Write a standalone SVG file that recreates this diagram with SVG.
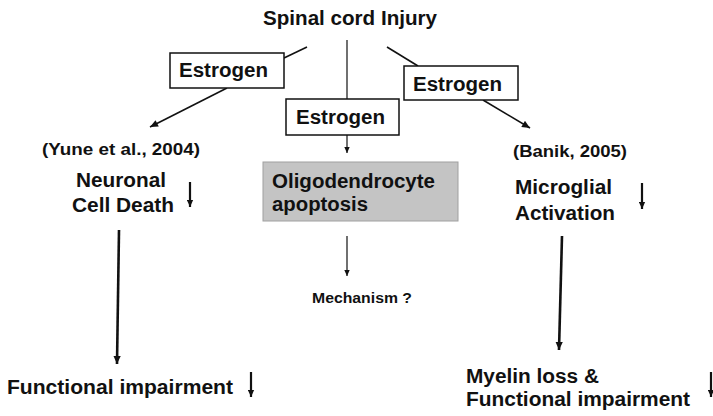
<svg xmlns="http://www.w3.org/2000/svg" width="713" height="416" viewBox="0 0 713 416">
<style>
text{font-family:"Liberation Sans",Arial,sans-serif;font-weight:bold;fill:#111}
.t20{font-size:20px}
.t15{font-size:16px}
.t13{font-size:14px}
.box{fill:#fff;stroke:#111;stroke-width:1.5}
.gray{fill:#c4c4c4;stroke:#a0a0a0;stroke-width:1}
.ln{stroke:#111;fill:none}
.w1{stroke-width:1.2}
.w15{stroke-width:1.6}
.w25{stroke-width:2.6}
.dn{stroke:#111;stroke-width:2.2;fill:none}
</style>
<defs>
<marker id="ah" viewBox="0 0 10 10" refX="10" refY="5" markerWidth="9" markerHeight="8" markerUnits="userSpaceOnUse" orient="auto"><path d="M0,0.5 L10,5 L0,9.5 z" fill="#111"/></marker>
<marker id="ahs" viewBox="0 0 10 10" refX="10" refY="5" markerWidth="7" markerHeight="6" markerUnits="userSpaceOnUse" orient="auto"><path d="M0,0.5 L10,5 L0,9.5 z" fill="#111"/></marker>
<marker id="ahd" viewBox="0 0 10 10" refX="10" refY="5" markerWidth="8" markerHeight="7" markerUnits="userSpaceOnUse" orient="auto"><path d="M0,0.5 L10,5 L0,9.5 z" fill="#111"/></marker>
</defs>
<rect width="713" height="416" fill="#fff"/>

<g id="connectors">
<line class="ln w15" x1="307" y1="47" x2="284" y2="58"/>
<line class="ln w15" x1="227" y1="88" x2="150" y2="127" marker-end="url(#ah)"/>
<line class="ln w1" x1="347" y1="40" x2="347" y2="99"/>
<line class="ln w1" x1="347" y1="135" x2="347" y2="153" marker-end="url(#ahs)"/>
<line class="ln w15" x1="387" y1="47" x2="418" y2="66"/>
<line class="ln w15" x1="483" y1="100" x2="530" y2="128" marker-end="url(#ah)"/>
<line class="ln w25" x1="119" y1="230" x2="117" y2="364" marker-end="url(#ah)"/>
<line class="ln w1" x1="347" y1="236" x2="347" y2="276" marker-end="url(#ahs)"/>
<line class="ln w25" x1="562" y1="236" x2="559" y2="350" marker-end="url(#ah)"/>
</g>

<g id="title"><text class="t20" x="263" y="25" textLength="174" lengthAdjust="spacingAndGlyphs">Spinal cord Injury</text></g>

<g id="estrogen-left">
<rect class="box" x="170" y="53" width="114" height="35"/>
<text class="t20" x="179" y="77" textLength="89" lengthAdjust="spacingAndGlyphs">Estrogen</text>
</g>
<g id="estrogen-mid">
<rect class="box" x="286" y="99" width="113" height="36"/>
<text class="t20" x="296" y="124" textLength="89" lengthAdjust="spacingAndGlyphs">Estrogen</text>
</g>
<g id="estrogen-right">
<rect class="box" x="404" y="66" width="114" height="34"/>
<text class="t20" x="413" y="91" textLength="89" lengthAdjust="spacingAndGlyphs">Estrogen</text>
</g>

<g id="neuronal">
<text class="t15" x="42" y="155" textLength="158" lengthAdjust="spacingAndGlyphs">(Yune et al., 2004)</text>
<text class="t20" x="76" y="187" textLength="90" lengthAdjust="spacingAndGlyphs">Neuronal</text>
<text class="t20" x="72" y="212" textLength="102" lengthAdjust="spacingAndGlyphs">Cell Death</text>
<line class="dn" x1="190" y1="182" x2="190" y2="207" marker-end="url(#ahd)"/>
</g>

<g id="oligo">
<rect class="gray" x="263" y="162" width="195" height="59"/>
<text class="t20" x="272" y="188" textLength="163" lengthAdjust="spacingAndGlyphs">Oligodendrocyte</text>
<text class="t20" x="272" y="211" textLength="96" lengthAdjust="spacingAndGlyphs">apoptosis</text>
</g>

<g id="mechanism"><text class="t13" x="312" y="303" textLength="100" lengthAdjust="spacingAndGlyphs">Mechanism ?</text></g>

<g id="microglial">
<text class="t15" x="513" y="157" textLength="114" lengthAdjust="spacingAndGlyphs">(Banik, 2005)</text>
<text class="t20" x="515" y="194" textLength="97" lengthAdjust="spacingAndGlyphs">Microglial</text>
<text class="t20" x="515" y="220" textLength="100" lengthAdjust="spacingAndGlyphs">Activation</text>
<line class="dn" x1="642" y1="183" x2="642" y2="209" marker-end="url(#ahd)"/>
</g>

<g id="functional-left">
<text class="t20" x="7" y="394" textLength="226" lengthAdjust="spacingAndGlyphs">Functional impairment</text>
<line class="dn" x1="251" y1="372" x2="251" y2="397" marker-end="url(#ahd)"/>
</g>

<g id="functional-right">
<text class="t20" x="466" y="383" textLength="133" lengthAdjust="spacingAndGlyphs">Myelin loss &amp;</text>
<text class="t20" x="466" y="406" textLength="224" lengthAdjust="spacingAndGlyphs">Functional impairment</text>
<line class="dn" x1="711" y1="372" x2="711" y2="397" marker-end="url(#ahd)"/>
</g>
</svg>
